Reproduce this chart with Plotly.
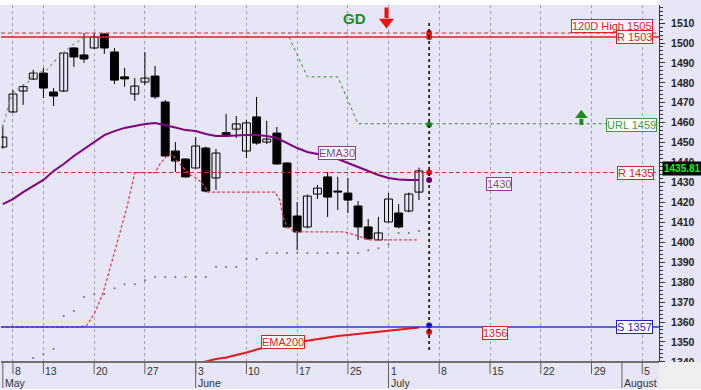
import plotly.graph_objects as go

# ---------------- data ----------------
# trading-day index 0 = May 7 ... 41 = July 4
opens  = [1447.8,1465.4,1475.9,1481.9,1484.9,1475.4,1475.9,1497.5,1494.0,1497.5,
          1504.5,1495.5,1483.0,1474.4,1480.4,1483.4,1470.4,1445.8,1441.8,1437.3,
          1447.3,1432.3,1455.0,1456.8,1445.8,1462.9,1450.3,1454.8,1439.8,1413.2,
          1407.7,1424.2,1432.8,1425.7,1424.7,1418.2,1407.7,1401.2,1410.2,1414.7,
          1415.7,1425.2]
highs  = [1459.0,1476.4,1479.4,1486.5,1487.5,1477.4,1495.5,1498.0,1505.0,1505.0,
          1505.0,1497.5,1487.5,1482.4,1495.5,1488.5,1471.4,1450.3,1442.0,1452.8,
          1448.0,1446.8,1464.4,1463.4,1461.4,1472.9,1460.9,1457.9,1440.0,1420.2,
          1424.0,1428.8,1435.3,1432.8,1432.3,1420.7,1411.7,1412.7,1424.7,1419.2,
          1425.0,1437.5]
lows   = [1447.0,1465.0,1469.0,1481.5,1472.4,1468.4,1475.5,1488.0,1490.0,1497.0,
          1494.5,1479.4,1478.0,1471.0,1479.0,1472.0,1443.0,1435.3,1432.5,1437.0,
          1425.0,1426.3,1453.8,1452.3,1442.3,1449.0,1449.3,1439.0,1407.0,1396.1,
          1407.0,1421.7,1412.7,1416.2,1414.7,1401.2,1401.5,1401.0,1410.0,1407.0,
          1415.0,1421.2]
closes = [1452.8,1474.4,1478.1,1484.9,1477.4,1473.4,1495.0,1493.0,1492.0,1503.0,
          1497.5,1481.4,1482.0,1478.4,1482.4,1473.0,1443.3,1440.8,1432.8,1448.3,
          1425.7,1444.8,1454.0,1459.4,1459.9,1449.8,1451.8,1439.3,1407.7,1405.2,
          1423.2,1427.2,1422.7,1425.2,1421.2,1407.7,1401.7,1404.7,1421.7,1407.7,
          1424.2,1435.81]

ema30 = [1419.2,1421.7,1425.2,1428.2,1431.3,1435.8,1439.3,1443.3,1446.8,1450.3,
         1453.8,1455.8,1457.4,1458.4,1459.4,1459.9,1458.9,1457.6,1456.3,1455.8,
         1454.3,1453.3,1453.3,1453.6,1453.8,1453.8,1453.3,1452.3,1449.8,1447.3,
         1445.3,1444.3,1443.3,1441.8,1439.8,1437.8,1435.8,1433.8,1432.3,1431.5,
         1431.3,1431.3]

ema200_idx = list(range(17, 42))
ema200 = [1336.5,1337.8,1339.0,1340.4,1341.4,1342.2,1343.4,1344.7,1346.2,1347.5,
          1348.2,1349.0,1350.0,1350.7,1351.5,1352.2,1353.0,1353.5,1354.0,1354.7,
          1355.2,1355.7,1356.2,1356.8,1357.3]

stop_x = [-0.2,7.6,8.3,9.1,9.9,10.85,11.5,12.2,13.0,15.0,15.5,16.2,16.7,17.3,18.4,
          19.2,19.9,20.2,26.8,27.3,27.6,28.0,28.8,33.7,35.0,35.7,36.0,40.8]
stop_y = [1357.5,1357.5,1358.5,1365.0,1375.0,1392.0,1404.0,1417.0,1435.0,1435.0,
          1439.5,1443.5,1444.0,1440.0,1434.0,1431.8,1428.0,1425.2,1425.2,1421.2,
          1412.7,1407.7,1405.2,1405.2,1403.2,1401.7,1401.2,1401.2]

url_x = [28.2, 30.0, 33.0, 35.0, 64.7]
url_y = [1503.0, 1483.0, 1483.0, 1459.5, 1459.5]

upper_x = [-0.1,0.2,0.6,1.2,1.7,2.5,3.0,4.35,5.4,6.1,6.6,7.6,8.3]
upper_y = [1457.4,1461.4,1470.4,1475.4,1478.0,1480.4,1484.4,1486.5,1492.5,1496.0,
           1498.0,1501.5,1504.0]

dots_idx = list(range(3, 42))
dots_val = [1342.0,1344.0,1346.5,1363.0,1365.5,1372.6,1374.0,1374.0,1377.0,1379.0,
            1379.0,1381.0,1382.6,1382.6,1382.6,1382.6,1382.6,1382.6,1387.6,1387.6,
            1387.6,1391.6,1391.6,1394.6,1394.6,1394.6,1394.6,1394.6,1394.6,1394.6,
            1394.6,1394.6,1394.6,1396.0,1397.0,1399.0,1404.7,1404.7,1405.7]

high120 = 1505
res1 = 1503
url_level = 1459
res2 = 1435
sup1 = 1357.5
last_price = 1435.81
ema30_last = 1431.3
ema200_last = 1355.5
signal_idx = 42

tick_pos  = [1, 4, 9, 14, 19, 24, 29, 34, 38, 43, 48, 53, 58, 63]
tick_text = ["8", "13", "20", "27", "3", "10", "17", "25", "1", "8", "15", "22", "29", "5"]
month_pos  = [0, 19, 38, 61]
month_text = ["May", "June", "July", "August"]

# signal arrows (index, shaft start, shaft end, head centre)
gd_idx, gd_val = 34.6, 1512.5
down_arrow = (37.8, 1517.8, 1512.5, 1510.6)
up_arrow = (57.0, 1458.9, 1462.0, 1463.8)

# ---------------- figure ----------------
BG = "#E6E6F6"
FONT = "Arial, Liberation Sans, sans-serif"
fig = go.Figure()

# wicks
wx, wy = [], []
for i, (h, l) in enumerate(zip(highs, lows)):
    wx += [i, i, None]
    wy += [l, h, None]
fig.add_trace(go.Scatter(x=wx, y=wy, mode="lines", line=dict(color="black", width=1),
                         hoverinfo="skip"))

# bodies
base = [min(o, c) for o, c in zip(opens, closes)]
hgt = [max(abs(c - o), 0.45) for o, c in zip(opens, closes)]
fills = [BG if c >= o else "black" for o, c in zip(opens, closes)]
fig.add_trace(go.Bar(x=list(range(len(opens))), y=hgt, base=base, width=0.78,
                     marker=dict(color=fills, line=dict(color="black", width=1))))

# lines
fig.add_trace(go.Scatter(x=list(range(len(ema30))), y=ema30, mode="lines",
                         line=dict(color="#800080", width=2)))
fig.add_trace(go.Scatter(x=ema200_idx, y=ema200, mode="lines",
                         line=dict(color="#E81818", width=2)))
fig.add_trace(go.Scatter(x=stop_x, y=stop_y, mode="lines",
                         line=dict(color="#E0405A", width=1.3, dash="3px,2px")))
fig.add_trace(go.Scatter(x=url_x, y=url_y, mode="lines",
                         line=dict(color="#2E8B2E", width=1, dash="3px,3px")))
fig.add_trace(go.Scatter(x=upper_x, y=upper_y, mode="lines",
                         line=dict(color="#8AA08A", width=1.2, dash="dot")))
fig.add_trace(go.Scatter(x=dots_idx, y=dots_val, mode="markers",
                         marker=dict(color="#707070", size=2)))

# horizontal levels
fig.add_hline(y=high120, line=dict(color="#E02020", width=1, dash="4px,3px"))
fig.add_hline(y=res1, line=dict(color="#E02020", width=1.5))
fig.add_hline(y=res2, line=dict(color="#E02020", width=1, dash="4px,3px"))
fig.add_hline(y=sup1, line=dict(color="#3030E0", width=1.5))

# vertical signal line
fig.add_shape(type="line", x0=signal_idx, x1=signal_idx, y0=1346, y1=1510.5,
              xref="x", yref="y", line=dict(color="black", width=1.5, dash="dot"))

# signal dots
fig.add_trace(go.Scatter(
    x=[signal_idx] * 7,
    y=[high120, res1, url_level, res2, ema30_last, sup1 + 0.8, ema200_last - 0.5],
    mode="markers",
    marker=dict(size=6, color=["#E01010", "#E01010", "#1E8C1E", "#E01010",
                               "#800080", "#1010E0", "#E01010"])))

# arrows
for (ax_, s0, s1, hc), col, sym in [(down_arrow, "#F01010", "triangle-down"),
                                    (up_arrow, "#1E8C1E", "triangle-up")]:
    fig.add_trace(go.Scatter(x=[ax_, ax_], y=[s0, s1], mode="lines",
                             line=dict(color=col, width=4)))
    fig.add_trace(go.Scatter(x=[ax_], y=[hc], mode="markers",
                             marker=dict(symbol=sym, size=13 if col == "#F01010" else 11,
                                         color=col, line=dict(width=0))))

# x band shapes
H = 357.0
fig.add_shape(type="rect", xref="paper", yref="paper", x0=1, x1=1.2, y0=-0.2, y1=0,
              fillcolor="#EFEFEF", line=dict(width=0), layer="above")
fig.add_shape(type="rect", xref="paper", yref="paper", x0=-0.1, x1=1.2,
              y0=-0.2, y1=-27 / H, fillcolor="white", line=dict(width=0), layer="above")
fig.add_shape(type="rect", xref="paper", yref="paper", x0=-0.1, x1=1.0,
              y0=1.0, y1=1.1, fillcolor="white", line=dict(width=0), layer="above")
fig.add_shape(type="line", xref="paper", yref="paper", x0=0, x1=1, y0=0, y1=0,
              line=dict(color="#707070", width=2), layer="above")
for p in tick_pos:
    fig.add_shape(type="line", xref="x", yref="paper", x0=p, x1=p, y0=0, y1=-12 / H,
                  line=dict(color="#606060", width=1), layer="above")
for p in month_pos:
    fig.add_shape(type="line", xref="x", yref="paper", x0=p, x1=p, y0=0, y1=-26 / H,
                  line=dict(color="#606060", width=1), layer="above")

ann = []
for p, t in zip(tick_pos, tick_text):
    ann.append(dict(x=p, y=0, xref="x", yref="paper", text=t, showarrow=False,
                    xanchor="left", yanchor="top", xshift=0, yshift=-1,
                    font=dict(family=FONT, size=10.5, color="#333333")))
for p, t in zip(month_pos, month_text):
    ann.append(dict(x=p, y=-13 / H, xref="x", yref="paper", text=t, showarrow=False,
                    xanchor="left", yanchor="top", xshift=0, yshift=0,
                    font=dict(family=FONT, size=10.5, color="#333333")))


def box(text, x, y, color, xref="x", xanchor="center", yanchor="middle",
        xshift=0, yshift=0):
    return dict(x=x, y=y, xref=xref, yref="y", text=text, showarrow=False,
                xanchor=xanchor, yanchor=yanchor, xshift=xshift, yshift=yshift,
                bgcolor="white", bordercolor=color, borderwidth=1, borderpad=0,
                font=dict(family=FONT, size=11, color=color))


ann.append(box(f"120D High {high120}", 1, high120, "#E02020", xref="paper",
               xanchor="right", yanchor="bottom", xshift=-6, yshift=0))
ann.append(box(f"R {res1}", 1, res1, "#E02020", xref="paper", xanchor="right", xshift=-6))
ann.append(box(f"URL {url_level}", 1, url_level, "#3C9A3C", xref="paper",
               xanchor="right", xshift=-2))
ann.append(box(f"R {res2}", 1, res2, "#E02020", xref="paper", xanchor="right", xshift=-5))
ann.append(box(f"S {int(sup1)}", 1, sup1, "#2020D0", xref="paper", xanchor="right",
               xshift=-6))
ann.append(box("1430", 48.9, 1429.3, "#8B3A9B"))
ann.append(box("1356", 48.5, 1354.5, "#E02020"))
ann.append(box("EMA30", 32.9, 1444.8, "#8B3A9B"))
ann.append(box("EMA200", 27.65, 1350.0, "#E02020"))
ann.append(dict(x=1, y=last_price, xref="paper", yref="y", text=f"{last_price:.2f}",
                showarrow=False, xanchor="left", yanchor="middle", xshift=3, yshift=2,
                bgcolor="black", borderpad=1,
                font=dict(family=FONT, size=10, color="#00FF00", weight="bold")))
ann.append(dict(x=gd_idx, y=gd_val, xref="x", yref="y", text="<b>GD</b>", showarrow=False,
                font=dict(family=FONT, size=15, color="#1E8C1E")))

fig.update_layout(
    width=701, height=390,
    margin=dict(l=1, r=42, t=5, b=28),
    paper_bgcolor=BG, plot_bgcolor=BG,
    showlegend=False, barmode="overlay",
    annotations=ann,
    font=dict(family=FONT),
    xaxis=dict(range=[-0.18, 64.65], tickvals=tick_pos, showticklabels=False,
               showgrid=True, gridcolor="#A0A0B8", griddash="dot", gridwidth=1,
               zeroline=False, showline=False, ticks=""),
    yaxis=dict(range=[1339.94, 1519.07], side="right", dtick=10, tick0=1350,
               showgrid=False, zeroline=False, showline=True, linecolor="#333333",
               linewidth=1, ticks="outside", ticklen=5, tickcolor="#333333",
               minor=dict(dtick=2, ticklen=3, tickcolor="#333333", ticks="outside"),
               ticklabelstandoff=4,
               tickfont=dict(family=FONT, size=10.5, color="#222222", weight="bold")),
)

fig.write_html("out.html")
